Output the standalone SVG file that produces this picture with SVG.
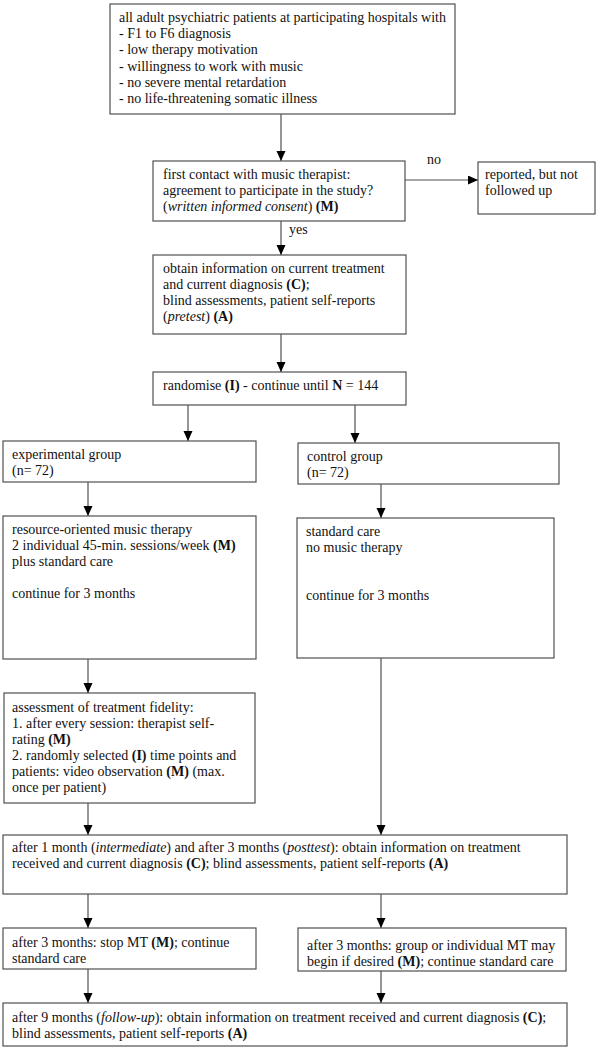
<svg xmlns="http://www.w3.org/2000/svg" width="600" height="1048" viewBox="0 0 600 1048">
<style>
.box{fill:#fff;stroke:#505050;stroke-width:1.2}
.t{font-family:"Liberation Serif","Times New Roman",serif;font-size:14px;fill:#111}
.b{font-weight:bold}
.i{font-style:italic}
.c{stroke:#505050;stroke-width:1.2;fill:none;marker-end:url(#ah)}
</style>
<defs>
<marker id="ah" markerUnits="userSpaceOnUse" markerWidth="10" markerHeight="10" refX="10" refY="4.5" orient="auto">
<path d="M0,0 L10,4.5 L0,9 z" fill="#000"/>
</marker>
</defs>
<rect width="600" height="1048" fill="#fff"/>
<g id="connectors">
<line class="c" x1="281" y1="114" x2="281" y2="161"/>
<line class="c" x1="405" y1="180" x2="478" y2="180"/>
<line class="c" x1="281" y1="221" x2="281" y2="255"/>
<line class="c" x1="281" y1="334" x2="281" y2="372"/>
<line class="c" x1="188" y1="405" x2="188" y2="441"/>
<line class="c" x1="355" y1="405" x2="355" y2="443"/>
<line class="c" x1="88" y1="482" x2="88" y2="516"/>
<line class="c" x1="381" y1="484" x2="381" y2="518"/>
<line class="c" x1="88" y1="659" x2="88" y2="693"/>
<line class="c" x1="88" y1="803" x2="88" y2="835"/>
<line class="c" x1="381" y1="658" x2="381" y2="835"/>
<line class="c" x1="88" y1="894" x2="88" y2="928"/>
<line class="c" x1="381" y1="894" x2="381" y2="928"/>
<line class="c" x1="88" y1="969" x2="88" y2="1003"/>
<line class="c" x1="381" y1="971" x2="381" y2="1003"/>
<text class="t" x="427" y="164">no</text>
<text class="t" x="289" y="234">yes</text>
</g>
<g id="n1">
<rect class="box" x="110" y="4" width="345" height="110"/>
<text class="t" x="119" y="21.6">all adult psychiatric patients at participating hospitals with</text>
<text class="t" x="119" y="37.9">- F1 to F6 diagnosis</text>
<text class="t" x="119" y="54.2">- low therapy motivation</text>
<text class="t" x="119" y="70.5">- willingness to work with music</text>
<text class="t" x="119" y="86.8">- no severe mental retardation</text>
<text class="t" x="119" y="103.1">- no life-threatening somatic illness</text>
</g>
<g id="n2">
<rect class="box" x="153" y="161" width="252" height="60"/>
<text class="t" x="163" y="178.5">first contact with music therapist:</text>
<text class="t" x="163" y="194.6">agreement to participate in the study?</text>
<text class="t" x="163" y="210.7">(<tspan class="i">written informed consent</tspan>) <tspan class="b">(M)</tspan></text>
</g>
<g id="n3">
<rect class="box" x="478" y="162" width="117" height="52"/>
<text class="t" x="485" y="179">reported, but not</text>
<text class="t" x="485" y="195">followed up</text>
</g>
<g id="n4">
<rect class="box" x="153" y="255" width="253" height="79"/>
<text class="t" x="163" y="272.5">obtain information on current treatment</text>
<text class="t" x="163" y="288.5">and current diagnosis <tspan class="b">(C)</tspan>;</text>
<text class="t" x="163" y="304.5">blind assessments, patient self-reports</text>
<text class="t" x="163" y="320.5">(<tspan class="i">pretest</tspan>) <tspan class="b">(A)</tspan></text>
</g>
<g id="n5">
<rect class="box" x="153" y="372" width="253" height="33"/>
<text class="t" x="163" y="389.5">randomise <tspan class="b">(I)</tspan> - continue until <tspan class="b">N</tspan> = 144</text>
</g>
<g id="n6">
<rect class="box" x="3" y="441" width="253" height="41"/>
<text class="t" x="12" y="458.5">experimental group</text>
<text class="t" x="12" y="475">(n= 72)</text>
</g>
<g id="n7">
<rect class="box" x="298" y="443" width="261" height="41"/>
<text class="t" x="307" y="460.5">control group</text>
<text class="t" x="307" y="477">(n= 72)</text>
</g>
<g id="n8">
<rect class="box" x="3" y="516" width="253" height="143"/>
<text class="t" x="12" y="533.5">resource-oriented music therapy</text>
<text class="t" x="12" y="549.6">2 individual 45-min. sessions/week <tspan class="b">(M)</tspan></text>
<text class="t" x="12" y="565.7">plus standard care</text>
<text class="t" x="12" y="597.9">continue for 3 months</text>
</g>
<g id="n9">
<rect class="box" x="297" y="518" width="257" height="140"/>
<text class="t" x="306" y="535.5">standard care</text>
<text class="t" x="306" y="551.6">no music therapy</text>
<text class="t" x="306" y="599.9">continue for 3 months</text>
</g>
<g id="n10">
<rect class="box" x="4" y="693" width="251" height="110"/>
<text class="t" x="12" y="711.5">assessment of treatment fidelity:</text>
<text class="t" x="12" y="727.6">1. after every session: therapist self-</text>
<text class="t" x="12" y="743.7">rating <tspan class="b">(M)</tspan></text>
<text class="t" x="12" y="759.8">2. randomly selected  <tspan class="b">(I)</tspan> time points and</text>
<text class="t" x="12" y="775.9">patients: video observation  <tspan class="b">(M)</tspan> (max.</text>
<text class="t" x="12" y="792">once per patient)</text>
</g>
<g id="n11">
<rect class="box" x="3" y="835" width="564" height="59"/>
<text class="t" x="12" y="852">after 1 month (<tspan class="i">intermediate</tspan>) and after 3 months (<tspan class="i">posttest</tspan>): obtain information on treatment</text>
<text class="t" x="12" y="868">received and current diagnosis <tspan class="b">(C)</tspan>; blind assessments, patient self-reports <tspan class="b">(A)</tspan></text>
</g>
<g id="n12">
<rect class="box" x="3" y="928" width="253" height="41"/>
<text class="t" x="12" y="946.6">after 3 months: stop MT <tspan class="b">(M)</tspan>; continue</text>
<text class="t" x="12" y="962.7">standard care</text>
</g>
<g id="n13">
<rect class="box" x="298" y="928" width="268" height="43"/>
<text class="t" x="307" y="949.5">after 3 months: group or individual MT may</text>
<text class="t" x="307" y="965.6">begin if desired <tspan class="b">(M)</tspan>; continue standard care</text>
</g>
<g id="n14">
<rect class="box" x="3" y="1003" width="564" height="43"/>
<text class="t" x="12" y="1021.6">after 9 months (<tspan class="i">follow-up</tspan>): obtain information on treatment received and current diagnosis <tspan class="b">(C)</tspan>;</text>
<text class="t" x="12" y="1037.7">blind assessments, patient self-reports <tspan class="b">(A)</tspan></text>
</g>
</svg>
